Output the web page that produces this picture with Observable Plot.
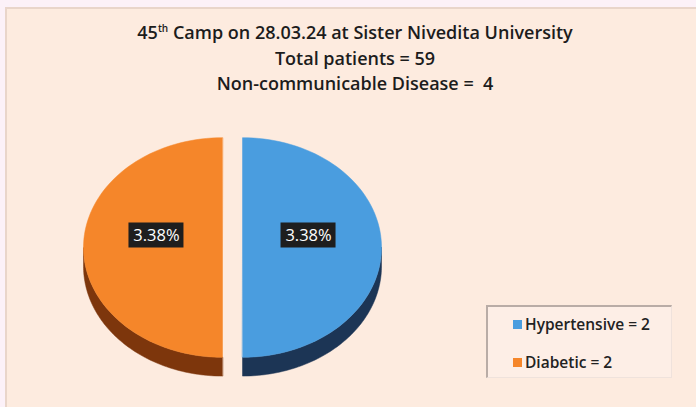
<!DOCTYPE html>
<html><head><meta charset="utf-8">
<script src="https://cdn.jsdelivr.net/npm/d3@7"></script>
<script src="https://cdn.jsdelivr.net/npm/@observablehq/plot@0.6"></script>
<style>
html,body{margin:0;padding:0;background:#fcf1f8;width:696px;height:407px;overflow:hidden;font-family:"Open Sans",Lato,sans-serif;}
#panel{position:absolute;left:5px;top:7px;width:691px;height:400px;background:#fdebdf;border-left:2px solid #e9d5ca;border-top:2px solid #e9d5ca;box-sizing:border-box;}
#title{position:absolute;left:5px;width:700px;top:16px;text-align:center;font-weight:600;font-size:18px;line-height:25.5px;color:#1c1c1c;white-space:pre;}
#chart{position:absolute;left:0;top:0;}
#legend{position:absolute;left:486px;top:305px;width:186px;height:73px;box-sizing:border-box;border-left:2px solid #b9aca6;border-top:2px solid #b9aca6;border-right:1px solid #efe2dc;border-bottom:1px solid #efe2dc;background:#fdeee6;}
.item{position:absolute;left:25px;font-size:15.5px;font-weight:600;color:#222;height:18px;line-height:18px;white-space:nowrap;}
.sw{display:inline-block;width:9px;height:9px;margin-right:3px;vertical-align:1px;}
</style></head>
<body>
<div id="panel"></div>
<div id="chart"></div>
<div id="title"></div>
<div id="legend"></div>
<script>
// ---- data ----
const titleLines = ["45<sup style='font-size:10px;vertical-align:7px'>th</sup> Camp on 28.03.24 at Sister Nivedita University", "Total patients = 59", "Non-communicable Disease =  4"];
const categories = ["Hypertensive", "Diabetic"];
const counts = [2, 2];
const percentLabels = ["3.38%", "3.38%"];
const topColors = ["#4a9ddf", "#f5862a"];
const sideColors = ["#1c3555", "#7d360c"];

// ---- title ----
document.getElementById("title").innerHTML = titleLines.join("<br>");

// ---- legend ----
const legend = document.getElementById("legend");
categories.forEach((c, i) => {
  const d = document.createElement("div");
  d.className = "item";
  d.style.top = (i === 0 ? 8 : 46) + "px";
  d.innerHTML = `<span class="sw" style="background:${topColors[i]}"></span>${c} = ${counts[i]}`;
  legend.appendChild(d);
});

// ---- 3D pie geometry (unit radius, tilted) ----
const RY = 0.79, DEPTH = 0.135, EXPLODE = 0.072, STEPS = 80;
const arcs = d3.pie().sort(null).startAngle(0).endAngle(2 * Math.PI)(counts);
const topRows = [], sideRows = [], labels = [];
arcs.forEach((a, i) => {
  const mid = (a.startAngle + a.endAngle) / 2;
  const ox = Math.sin(mid) * EXPLODE, oy = Math.cos(mid) * EXPLODE * RY;
  const P = (t, dz = 0) => ({x: ox + Math.sin(t), y: oy + Math.cos(t) * RY - dz});
  const s0 = Math.max(a.startAngle, Math.PI / 2), s1 = Math.min(a.endAngle, 3 * Math.PI / 2);
  if (s1 > s0) {
    const ts = d3.range(STEPS + 1).map(k => s0 + (s1 - s0) * k / STEPS);
    ts.forEach(t => sideRows.push({key: i, color: sideColors[i], ...P(t)}));
    ts.slice().reverse().forEach(t => sideRows.push({key: i, color: sideColors[i], ...P(t, DEPTH)}));
  }
  topRows.push({key: i, color: topColors[i], x: ox, y: oy});
  d3.range(STEPS + 1).forEach(k => {
    const t = a.startAngle + (a.endAngle - a.startAngle) * k / STEPS;
    topRows.push({key: i, color: topColors[i], ...P(t)});
  });
  labels.push({x: ox + Math.sin(mid) * 0.475, y: oy + Math.cos(mid) * 0.475 * RY, text: percentLabels[i]});
});

const HW = 27.5 / 139, HH = 12.5 / 139;
const plot = Plot.plot({
  width: 696, height: 407, margin: 0,
  x: {axis: null, domain: [-232 / 139, 464 / 139], range: [0, 696]},
  y: {axis: null, domain: [-160 / 139, 247 / 139], range: [407, 0]},
  color: {type: "identity"},
  style: {background: "transparent", fontFamily: "'Open Sans', sans-serif"},
  marks: [
    Plot.line(sideRows, {x: "x", y: "y", z: "key", fill: "color", stroke: "color", strokeWidth: 0.5, curve: "linear-closed"}),
    Plot.line(topRows, {x: "x", y: "y", z: "key", fill: "color", stroke: "color", strokeWidth: 0.5, curve: "linear-closed"}),
    Plot.rect(labels, {x1: d => d.x - HW, x2: d => d.x + HW, y1: d => d.y - HH, y2: d => d.y + HH, fill: "#1e1e1e", dy: -12}),
    Plot.text(labels, {x: "x", y: "y", text: "text", fill: "white", fontSize: 16.5, dy: -12})
  ]
});
document.getElementById("chart").appendChild(plot);
</script>
</body></html>
